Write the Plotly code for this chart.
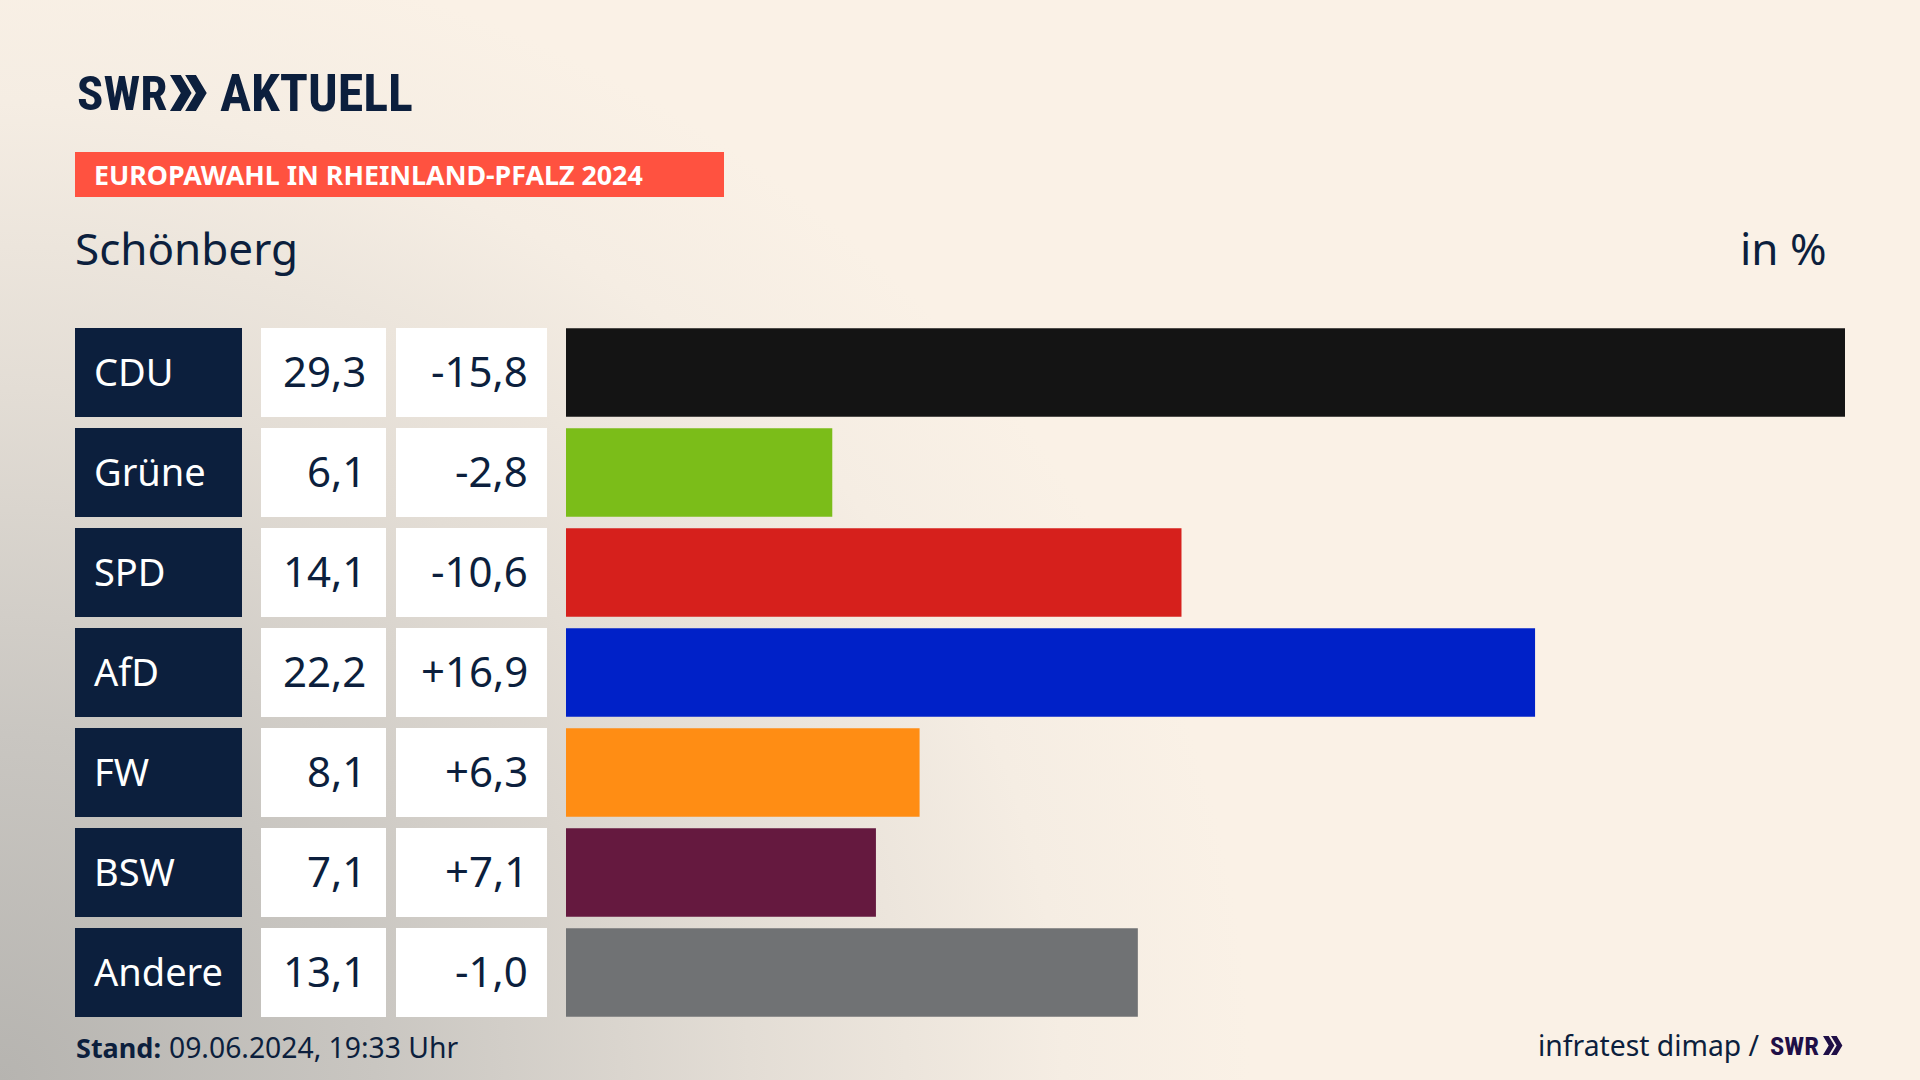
import base64
import plotly.graph_objects as go

W, H = 1920, 1080

parties = ["CDU", "Grüne", "SPD", "AfD", "FW", "BSW", "Andere"]
shares = [29.3, 6.1, 14.1, 22.2, 8.1, 7.1, 13.1]
changes = [-15.8, -2.8, -10.6, 16.9, 6.3, 7.1, -1.0]
bar_colors = ["#141414", "#7BBD19", "#D6201C", "#0021C8", "#FF8D14", "#65193F", "#707274"]

NAVY = "#0C1F3D"
FONT = "Noto Sans"
LOGO_FONT = "Roboto Condensed, DejaVu Sans Condensed, Liberation Sans"


def px(x):
    return x / W


def py(y):
    return 1 - y / H


def chevrons(x, y, h):
    # the two arrows of the SWR logo, as a path in paper coordinates
    w = h * 0.3
    t = h * 0.3
    step = h * 0.42
    path = ""
    for x0 in [x, x + step]:
        pts = [(x0, y), (x0 + t, y), (x0 + w + t, y + h / 2), (x0 + t, y + h), (x0, y + h), (x0 + w, y + h / 2)]
        path += "M" + " L".join(f"{px(a):.5f},{py(b):.5f}" for a, b in pts) + " Z "
    return path


def text(x, y, s, size, color=NAVY, anchor="left", font=FONT, yref="paper", yshift=0):
    return dict(x=x, y=y, text=s, xref="paper", yref=yref, xanchor=anchor, yanchor="middle", yshift=yshift,
                showarrow=False, font=dict(family=font, size=size, color=color))


# Background: cream with a grey glow from the bottom left corner
svg = f"""<svg xmlns="http://www.w3.org/2000/svg" width="{W}" height="{H}">
<defs><radialGradient id="g" gradientUnits="userSpaceOnUse" cx="0" cy="0" r="1"
 gradientTransform="translate(0 1080) scale(1250 1150)">
<stop offset="0" stop-color="#b6b4b0"/><stop offset="0.3" stop-color="#c9c6c1"/>
<stop offset="0.6" stop-color="#e3ddd5"/><stop offset="0.85" stop-color="#f5ede3"/>
<stop offset="1" stop-color="#faf1e6"/></radialGradient></defs>
<rect width="{W}" height="{H}" fill="url(#g)"/></svg>"""
bg = "data:image/svg+xml;base64," + base64.b64encode(svg.encode()).decode()

fig = go.Figure(go.Bar(
    x=shares,
    y=parties,
    orientation="h",
    marker=dict(color=bar_colors, line_width=0),
    hoverinfo="skip",
))

shapes = []
annotations = []
half = 0.445
for i, party in enumerate(parties):
    for x0, x1, c in [(75, 242, NAVY), (261, 386, "white"), (396, 547, "white")]:
        shapes.append(dict(type="rect", xref="paper", yref="y", x0=px(x0), x1=px(x1),
                           y0=i - half, y1=i + half, fillcolor=c, line_width=0, layer="below"))
    annotations.append(text(px(92), party, party, 38, "white", yref="y", yshift=2))
    annotations.append(text(px(368), party, f"{shares[i]:.1f}".replace(".", ","), 42, anchor="right", yref="y", yshift=2))
    annotations.append(text(px(530), party, f"{changes[i]:+.1f}".replace(".", ","), 42, anchor="right", yref="y", yshift=2))

# Header
shapes.append(dict(type="rect", xref="paper", yref="paper", x0=px(75), x1=px(724), y0=py(197), y1=py(152),
                   fillcolor="#FF5240", line_width=0))
shapes.append(dict(type="path", xref="paper", yref="paper", path=chevrons(170, 75, 36), fillcolor=NAVY, line_width=0))
shapes.append(dict(type="path", xref="paper", yref="paper", path=chevrons(1823, 1036, 19), fillcolor="#1F0F47", line_width=0))

annotations += [
    text(px(75), py(93), "<b>SWR</b>", 49, font=LOGO_FONT),
    text(px(218), py(93), "<b>AKTUELL</b>", 52, font=LOGO_FONT),
    text(px(92), py(175), "<b>EUROPAWAHL IN RHEINLAND-PFALZ 2024</b>", 26.8, "white"),
    text(px(73), py(248), "Schönberg", 44),
    text(px(1829), py(248), "in %", 44, anchor="right"),
    text(px(74), py(1047), "<b>Stand:</b>", 27),
    text(px(167), py(1047), "09.06.2024, 19:33 Uhr", 28.3),
    text(px(1762), py(1045), "infratest dimap /", 28.3, anchor="right"),
    text(px(1768), py(1045), "<b>SWR</b>", 26.5, "#1F0F47", font=LOGO_FONT),
]

fig.update_layout(
    width=W,
    height=H,
    margin=dict(l=0, r=0, t=0, b=0),
    paper_bgcolor="#FAF1E6",
    plot_bgcolor="rgba(0,0,0,0)",
    showlegend=False,
    bargap=0.115,
    xaxis=dict(domain=[px(566), px(1845)], range=[0, 29.3], visible=False),
    yaxis=dict(domain=[py(1022.5), py(322.5)], type="category", range=[6.5, -0.5], visible=False),
    images=[dict(source=bg, xref="paper", yref="paper", x=0, y=1, sizex=1, sizey=1,
                 sizing="stretch", xanchor="left", yanchor="top", layer="below")],
    shapes=shapes,
    annotations=annotations,
)

fig.write_html("out.html", config={"displayModeBar": False},
               post_script="document.body.style.margin='0';document.body.style.overflow='hidden';")
